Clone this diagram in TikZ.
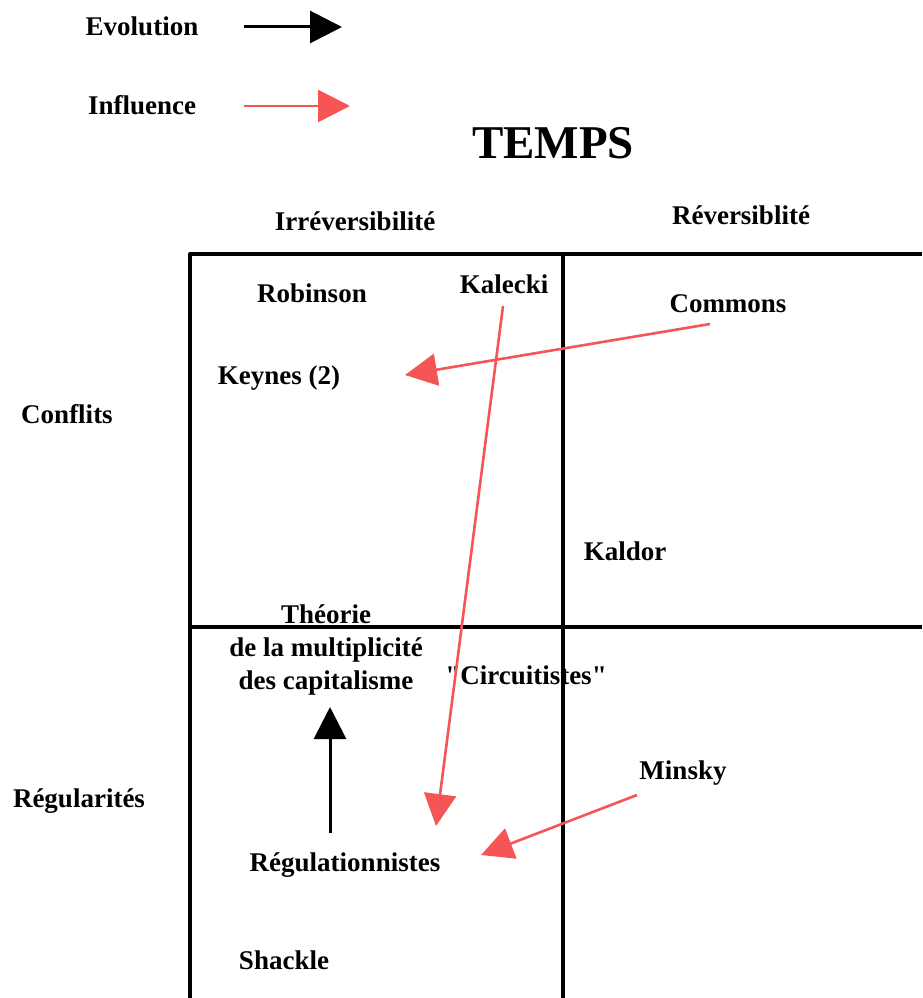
\documentclass[tikz,border=0pt]{standalone}
\usepackage{fontspec}
\setmainfont{Liberation Serif}
\usetikzlibrary{arrows.meta}
\definecolor{infl}{RGB}{245,85,85}
\begin{document}
\begin{tikzpicture}[x=1pt, y=-1pt, line join = round,
		lbl/.style = {font=\bfseries\fontsize{27}{33}\selectfont, inner sep=0pt},
		evol/.style = {line width=3pt, -{Triangle[length=32pt,width=32pt]}},
		infl/.style = {evol, color=infl, line width=2.6pt}]
				\useasboundingbox (0,0) rectangle (922,998);
				% legende
				\node[lbl] (evolution) at (142,26) {Evolution};
				\node[lbl] (influence) at (142,105) {Influence};
				\coordinate (evolA) at (244,27); \coordinate (evolB) at (342,27);
				\coordinate (inflA) at (244,106); \coordinate (inflB) at (350,106);
				\draw[evol] (evolA) -- (evolB);
				\draw[infl] (inflA) -- (inflB);
				\node[font=\bfseries\fontsize{47}{50}\selectfont] (temps) at (553,143) {TEMPS};
				% axes
				\node[lbl] (irrev) at (355,221) {Irréversibilité};
				\node[lbl] (rev) at (741,215) {Réversiblité};
				\node[lbl] (conflits) at (67,414) {Conflits};
				\node[lbl] (regularites) at (79,801) {Régularités};
				% auteurs
				\node[lbl] (robinson) at (312,293) {Robinson};
				\node[lbl] (kalecki) at (504,284) {Kalecki};
				\node[lbl] (commons) at (728,304) {Commons};
				\node[lbl] (keynes) at (279,378) {Keynes (2)};
				\node[lbl] (kaldor) at (625,551) {Kaldor};
				\node[lbl, align=center] (theorie) at (326,650) {Théorie\\de la multiplicité\\des capitalisme};
				\node[lbl] (circuit) at (526,675) {\textquotedbl Circuitistes\textquotedbl};
				\node[lbl] (minsky) at (683,773) {Minsky};
				\node[lbl] (regul) at (345,865) {Régulationnistes};
				\node[lbl] (shackle) at (284,960) {Shackle};
				% grille
				\draw[line width=4pt] (190,998) -- (190,254) -- (922,254) (563,254) -- (563,998) (190,627) -- (922,627);
				% fleches
				\coordinate (kalA) at (503,306); \coordinate (kalB) at (436,826);
				\coordinate (comA) at (710,324); \coordinate (comB) at (405,375);
				\coordinate (minA) at (637,795); \coordinate (minB) at (481,855);
				\coordinate (regA) at (330,833); \coordinate (regB) at (330,707);
				\draw[evol] (regA) -- (regB);
				\draw[infl] (kalA) -- (kalB);
				\draw[infl] (comA) -- (comB);
				\draw[infl] (minA) -- (minB);
			\end{tikzpicture}
\end{document}
